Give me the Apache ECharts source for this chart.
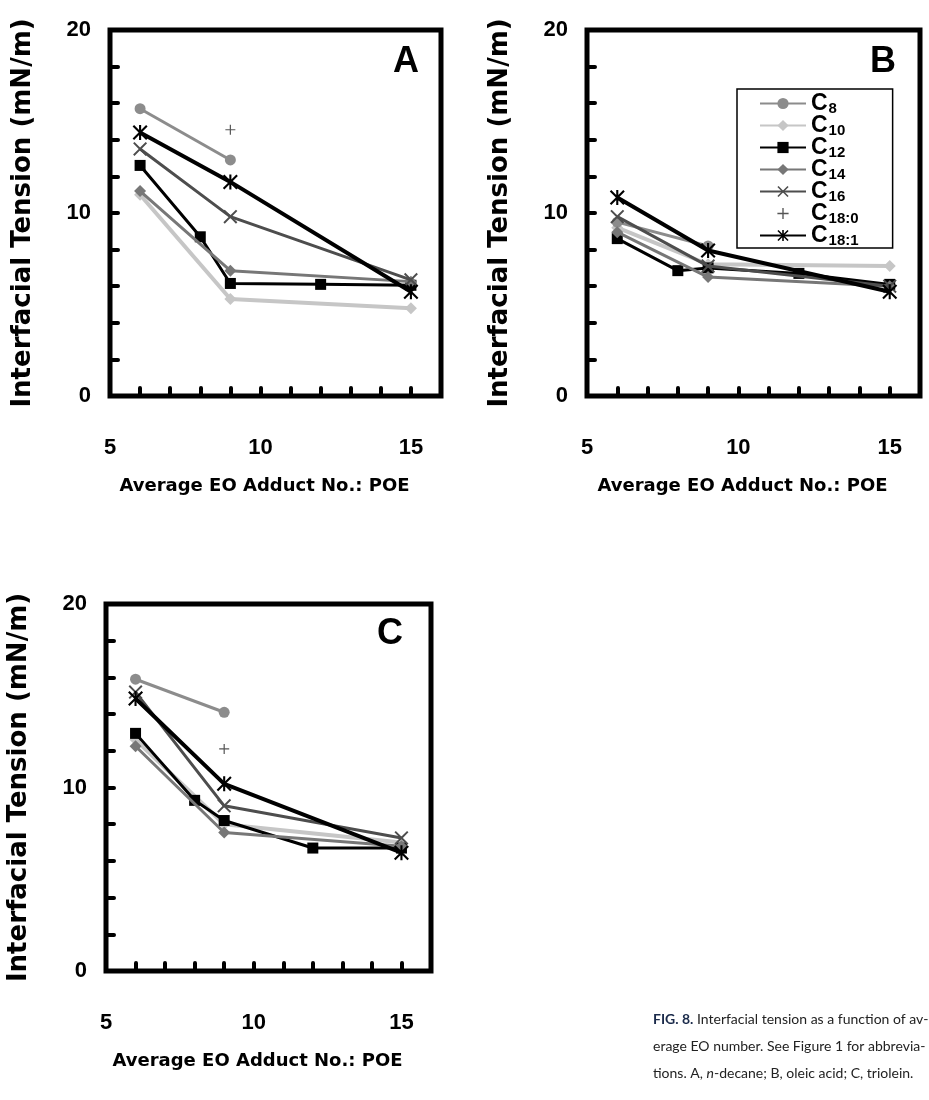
<!DOCTYPE html>
<html>
<head>
<meta charset="utf-8">
<script src="https://cdn.jsdelivr.net/npm/echarts@6/dist/echarts.min.js"></script>
<style>
html, body { margin: 0; padding: 0; background: #fff; }
#chartWrapper { width: 929px; height: 1100px; }
</style>
</head>
<body>
<div id="chartWrapper"></div>
<script>
// X軸: 平均EO加成數
const poe = [6, 8, 9, 12, 15];
const xTickLabels = [5, 10, 15];
const yTickLabels = [0, 10, 20];
const seriesNames = ["C8", "C10", "C12", "C14", "C16", "C18:0", "C18:1"];

// A, n-decane
const decane_C8   = [15.7, null, 12.9, null, null];
const decane_C10  = [11.0, null, 5.3, null, 4.8];
const decane_C12  = [12.6, 8.7, 6.15, 6.1, 6.05];
const decane_C14  = [11.2, null, 6.85, null, 6.25];
const decane_C16  = [13.5, null, 9.8, null, 6.35];
const decane_C180 = [null, null, 14.55, null, null];
const decane_C181 = [14.4, null, 11.7, null, 5.7];

// B, oleic acid
const oleic_C8   = [9.5, null, 8.2, null, null];
const oleic_C10  = [9.2, null, 7.2, null, 7.1];
const oleic_C12  = [8.6, 6.85, 7.0, 6.7, 6.1];
const oleic_C14  = [8.95, null, 6.5, null, 6.0];
const oleic_C16  = [9.8, null, 7.1, null, 6.0];
const oleic_C180 = [null, null, null, null, null];
const oleic_C181 = [10.85, null, 7.95, null, 5.7];

// C, triolein
const triolein_C8   = [15.9, null, 14.1, null, null];
const triolein_C10  = [12.6, null, 8.0, null, 7.0];
const triolein_C12  = [12.95, 9.3, 8.2, 6.7, 6.7];
const triolein_C14  = [12.25, null, 7.55, null, 6.8];
const triolein_C16  = [15.2, null, 9.0, null, 7.25];
const triolein_C180 = [null, null, 12.1, null, null];
const triolein_C181 = [14.85, null, 10.2, null, 6.45];

const panels = [
	[decane_C8, decane_C10, decane_C12, decane_C14, decane_C16, decane_C180, decane_C181],
	[oleic_C8, oleic_C10, oleic_C12, oleic_C14, oleic_C16, oleic_C180, oleic_C181],
	[triolein_C8, triolein_C10, triolein_C12, triolein_C14, triolein_C16, triolein_C180, triolein_C181],
];

// 自訂符號
const xSymbol = "path://M0,1 L1,0 L5,4 L9,0 L10,1 L6,5 L10,9 L9,10 L5,6 L1,10 L0,9 L4,5 Z";
const plusSymbol = "path://M4.4,0 H5.6 V4.4 H10 V5.6 H5.6 V10 H4.4 V5.6 H0 V4.4 H4.4 Z";
const starSymbol = xSymbol + " M4.3,0 H5.7 V10 H4.3 Z";

const styles = {
	"C8":    { color: "#8c8c8c", symbol: "circle",  size: 11, width: 3 },
	"C10":   { color: "#c6c6c6", symbol: "diamond", size: 12, width: 4 },
	"C12":   { color: "#000000", symbol: "rect",    size: 11, width: 3 },
	"C14":   { color: "#777777", symbol: "diamond", size: 12, width: 3 },
	"C16":   { color: "#4d4d4d", symbol: xSymbol,   size: 14, width: 3 },
	"C18:0": { color: "#555555", symbol: plusSymbol, size: 10, width: 0 },
	"C18:1": { color: "#000000", symbol: starSymbol, size: 15, width: 4 },
};

const grids = [
	{ left: 110, top: 30, width: 331, height: 366 },
	{ left: 587, top: 30, width: 333, height: 366 },
	{ left: 106, top: 604, width: 325, height: 367 },
];

const tickFont = { fontFamily: "Liberation Sans", fontWeight: "bold", fontSize: 22, color: "#000" };
const titleFont = { fontFamily: "DejaVu Sans", fontWeight: "bold", color: "#000" };
const axisTick = { show: true, inside: true, length: 8, lineStyle: { color: "#000", width: 4, cap: "round" } };

const myChart = echarts.init(document.getElementById("chartWrapper"));

let option = {
	backgroundColor: "#fff",
	animation: false,
	grid: grids.map(g => Object.assign({ show: true, borderColor: "#000", borderWidth: 5, backgroundColor: "transparent" }, g)),
	xAxis: grids.map((g, i) => ({
		type: "value",
		gridIndex: i,
		min: 5,
		max: 16,
		interval: 1,
		axisLine: { show: false },
		axisTick: axisTick,
		splitLine: { show: false },
		axisLabel: Object.assign({
			margin: 41,
			formatter: v => xTickLabels.includes(v) ? String(v) : ""
		}, tickFont),
		name: "Average EO Adduct No.: POE",
		nameLocation: "middle",
		nameGap: 81,
		nameTextStyle: Object.assign({ fontSize: 18, padding: [0, 22, 0, 0] }, titleFont),
	})),
	yAxis: grids.map((g, i) => ({
		type: "value",
		gridIndex: i,
		min: 0,
		max: 20,
		interval: 2,
		axisLine: { show: false },
		axisTick: axisTick,
		splitLine: { show: false },
		axisLabel: Object.assign({
			margin: 19,
			formatter: v => yTickLabels.includes(v) ? String(v) : ""
		}, tickFont),
		name: "Interfacial Tension (mN/m)",
		nameLocation: "middle",
		nameGap: 74,
		nameTextStyle: Object.assign({ fontSize: 26 }, titleFont),
	})),
	legend: {
		data: seriesNames,
		orient: "vertical",
		left: 737,
		top: 89,
		padding: [2, 34, 0, 22],
		itemGap: -3,
		itemWidth: 46,
		itemHeight: 14,
		backgroundColor: "#fff",
		borderColor: "#000",
		borderWidth: 1.5,
		borderRadius: 0,
		selectedMode: false,
		formatter: name => `{c|C}{s|${name.slice(1)}}`,
		textStyle: {
			rich: {
				c: { fontFamily: "Liberation Sans", fontWeight: "bold", fontSize: 23, color: "#000", lineHeight: 20 },
				s: { fontFamily: "Liberation Sans", fontWeight: "bold", fontSize: 15, color: "#000", lineHeight: 17, padding: [10, 0, 0, 1] },
			}
		}
	},
	graphic: [
		{ type: "text", left: 393, top: 44, style: { text: "A", font: "bold 36px 'Liberation Sans'", fill: "#000" } },
		{ type: "text", left: 870, top: 44, style: { text: "B", font: "bold 36px 'Liberation Sans'", fill: "#000" } },
		{ type: "text", left: 377, top: 616, style: { text: "C", font: "bold 36px 'Liberation Sans'", fill: "#000" } },
		{
			type: "text",
			left: 653,
			top: 1006,
			style: {
				text: "{b|FIG. 8.} Interfacial tension as a function of av-\nerage EO number. See Figure 1 for abbrevia-\ntions. A, {i|n}-decane; B, oleic acid; C, triolein.",
				font: "14px Lato",
				fill: "#222",
				lineHeight: 27,
				rich: {
					b: { font: "bold 14px Lato", fill: "#1a2a4a" },
					i: { font: "italic 14px Lato", fill: "#222" },
				}
			}
		}
	],
	series: [],
};

// 建立每個面板的系列
panels.forEach((panel, p) => {
	panel.forEach((values, k) => {
		const name = seriesNames[k];
		const st = styles[name];
		option.series.push({
			name: name,
			type: "line",
			xAxisIndex: p,
			yAxisIndex: p,
			connectNulls: true,
			symbol: st.symbol,
			symbolSize: st.size,
			z: k === 1 ? 1 : 2 + k,
			itemStyle: { color: st.color },
			lineStyle: { color: st.color, width: st.width, opacity: st.width ? 1 : 0 },
			data: values.map((v, i) => [poe[i], v]),
		});
	});
});

myChart.setOption(option);
</script>
</body>
</html>
